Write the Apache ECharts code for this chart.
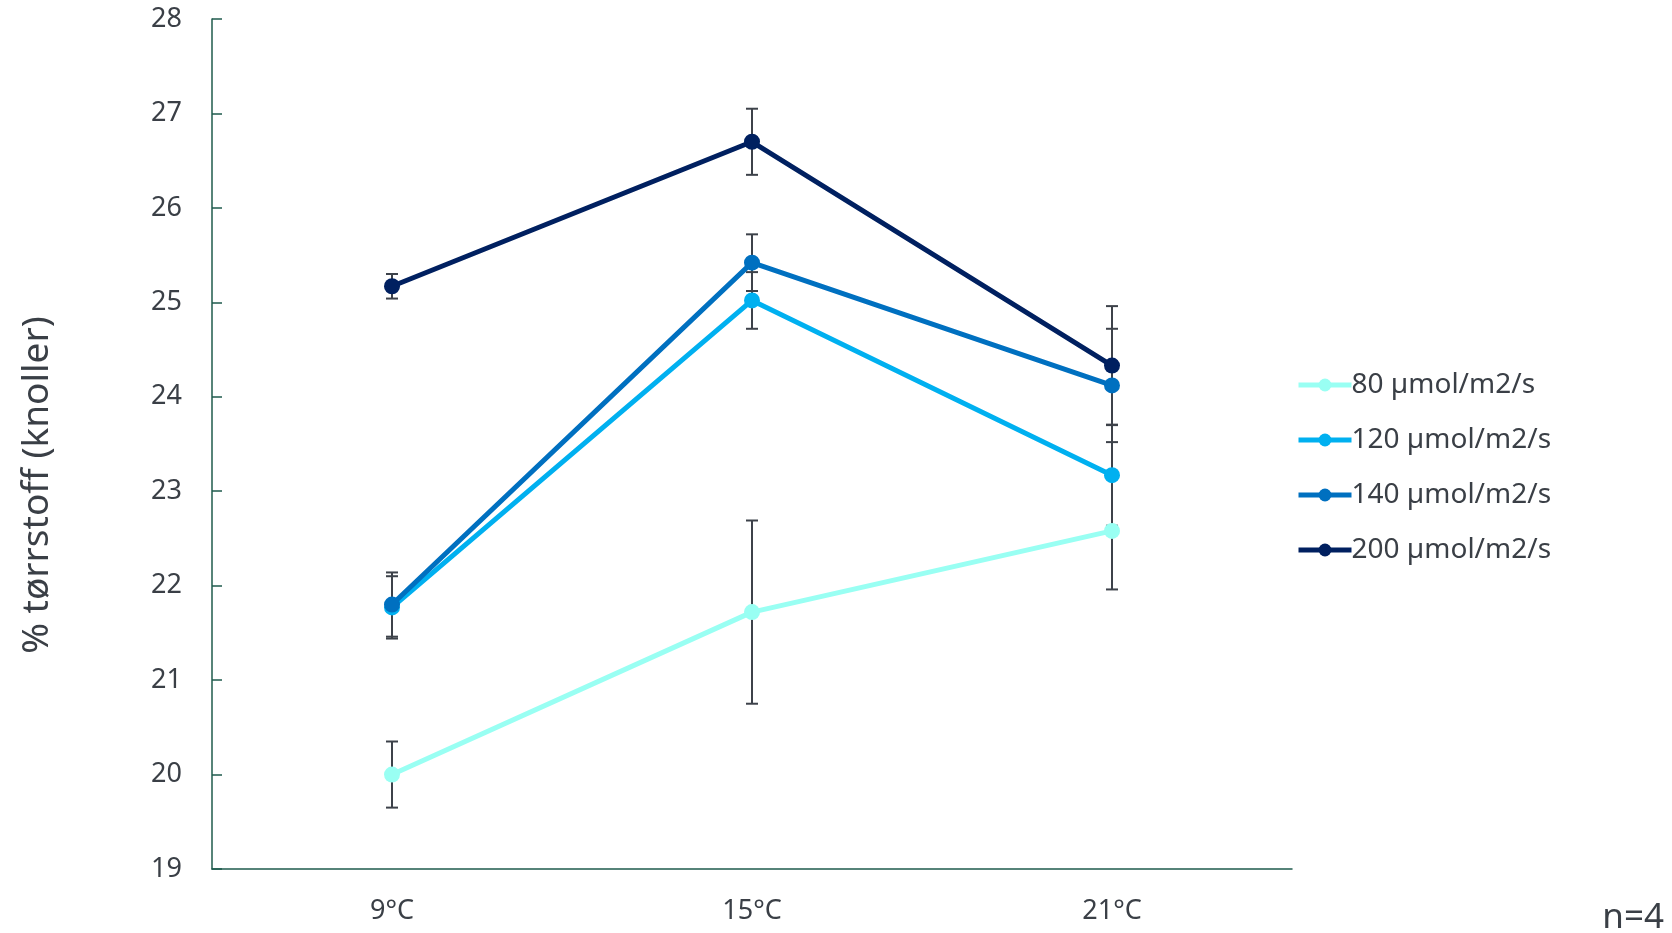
<!DOCTYPE html>
<html>
<head>
<meta charset="utf-8">
<script src="https://cdn.jsdelivr.net/npm/echarts@6/dist/echarts.min.js"></script>
<style>
html,body{margin:0;padding:0;background:#fff;}
#chart{width:1672px;height:933px;}
</style>
</head>
<body>
<div id="chart"></div>
<script>
const categories = ['9°C', '15°C', '21°C'];
const seriesNames = ['80 µmol/m2/s', '120 µmol/m2/s', '140 µmol/m2/s', '200 µmol/m2/s'];
const s80 = [20.00, 21.72, 22.58];
const s120 = [21.77, 25.02, 23.17];
const s140 = [21.80, 25.42, 24.12];
const s200 = [25.17, 26.70, 24.33];
const err80 = [0.35, 0.97, 0.62];
const err120 = [0.33, 0.30, 0.535];
const err140 = [0.34, 0.30, 0.60];
const err200 = [0.13, 0.35, 0.63];
const yTicks = [19, 20, 21, 22, 23, 24, 25, 26, 27, 28];
const yTitle = '% tørrstoff (knoller)';
const noteText = 'n=4';

const colors = ['#99FFF3', '#00B0F0', '#0070C0', '#002060'];
const values = [s80, s120, s140, s200];
const errs = [err80, err120, err140, err200];
const FONT = 'Noto Sans';
const TXT = '#3a3f46';
const AXIS = '#1f5b4d';

const chart = echarts.init(document.getElementById('chart'));

function errRender(params, api) {
  const i = api.value(0);
  const lo = api.coord([i, api.value(1)]);
  const hi = api.coord([i, api.value(2)]);
  const w = 6;
  const st = { stroke: '#3d424a', lineWidth: 2 };
  return {
    type: 'group',
    children: [
      { type: 'line', shape: { x1: lo[0], y1: lo[1], x2: hi[0], y2: hi[1] }, style: st },
      { type: 'line', shape: { x1: lo[0] - w, y1: lo[1], x2: lo[0] + w, y2: lo[1] }, style: st },
      { type: 'line', shape: { x1: hi[0] - w, y1: hi[1], x2: hi[0] + w, y2: hi[1] }, style: st }
    ]
  };
}

const series = [];
values.forEach((v, k) => {
  series.push({
    type: 'custom',
    name: 'err' + k,
    renderItem: errRender,
    encode: { x: 0, y: [1, 2] },
    data: v.map((val, i) => [i, val - errs[k][i], val + errs[k][i]]),
    z: 1,
    silent: true
  });
});
values.forEach((v, k) => {
  series.push({
    type: 'line',
    name: seriesNames[k],
    data: v,
    symbol: 'circle',
    symbolSize: 16,
    lineStyle: { width: 5, color: colors[k] },
    itemStyle: { color: colors[k] },
    z: 5 + k,
    animation: false
  });
});

chart.setOption({
  animation: false,
  grid: { left: 212, top: 19, right: 380, bottom: 64, containLabel: false },
  legend: {
    data: seriesNames,
    orient: 'vertical',
    left: 1296,
    top: 371,
    padding: 0,
    itemWidth: 53,
    itemHeight: 16,
    itemGap: 27,
    lineStyle: { width: 5 },
    textStyle: { fontFamily: FONT, fontSize: 28, color: TXT, padding: [0, 0, 0, -5] }
  },
  xAxis: {
    type: 'category',
    data: categories,
    boundaryGap: true,
    axisLine: { lineStyle: { color: AXIS, width: 1.5 } },
    axisTick: { show: false },
    axisLabel: { fontFamily: FONT, fontSize: 27, color: TXT, margin: 29 }
  },
  yAxis: {
    type: 'value',
    min: yTicks[0],
    max: yTicks[yTicks.length - 1],
    interval: 1,
    axisLine: { show: true, lineStyle: { color: AXIS, width: 1.5 } },
    axisTick: { show: true, inside: true, length: 10, lineStyle: { color: AXIS, width: 1.5 } },
    splitLine: { show: false },
    axisLabel: { fontFamily: FONT, fontSize: 27, color: TXT, margin: 30 }
  },
  graphic: [
    {
      type: 'text',
      x: 37, y: 485,
      rotation: Math.PI / 2,
      style: { text: yTitle, fontFamily: FONT, fontSize: 37, fill: TXT, align: 'center', verticalAlign: 'middle' }
    },
    {
      type: 'text',
      right: 8, top: 901,
      style: { text: noteText, fontFamily: FONT, fontSize: 35, fill: TXT }
    }
  ],
  series: series
});
</script>
</body>
</html>
